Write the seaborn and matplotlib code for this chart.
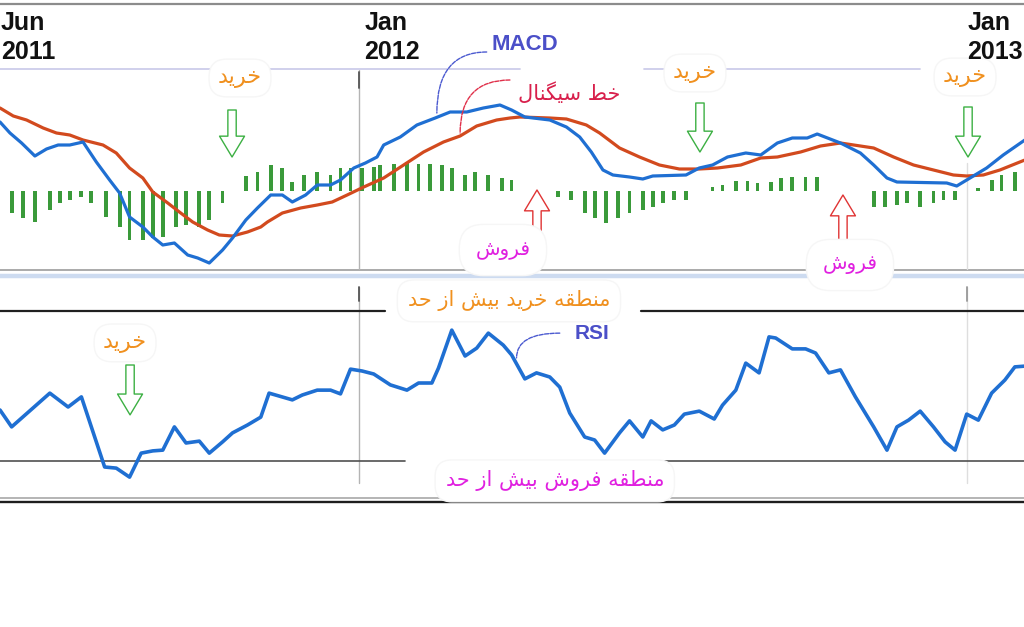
import matplotlib
matplotlib.use("Agg")
import matplotlib.pyplot as plt
from matplotlib.lines import Line2D
import seaborn as sns
import pandas as pd

# ---------------- data (x = days since 2011-05-30, weekly-ish) ----------------
macd_day = [0, 6, 13, 21, 28, 35, 42, 50, 58, 66, 72, 78, 86, 92, 98, 105, 113, 119, 126, 134,
            140, 148, 155, 163, 170, 176, 184, 191, 199, 205, 213, 220, 227, 231, 241, 251, 262,
            271, 281, 291, 301, 308, 316, 331, 341, 349, 356, 363, 369, 379, 387, 393, 413, 421,
            429, 438, 449, 458, 468, 477, 486, 492, 506, 518, 526, 534, 540, 570, 576, 582, 594,
            604, 617]
macd = [1.38, 1.16, 0.96, 0.70, 0.84, 0.92, 0.92, 0.98, 0.58, 0.22, -0.04, -0.52, -0.72, -0.92,
        -1.08, -1.04, -1.28, -1.34, -1.44, -1.18, -0.94, -0.58, -0.34, -0.08, -0.08, -0.22, -0.08,
        0.12, 0.12, 0.22, 0.46, 0.56, 0.68, 0.92, 1.08, 1.32, 1.46, 1.58, 1.58, 1.66, 1.72, 1.62,
        1.48, 1.42, 1.28, 1.08, 0.78, 0.42, 0.32, 0.28, 0.24, 0.30, 0.32, 0.46, 0.52, 0.68, 0.76,
        0.72, 0.96, 1.06, 1.06, 1.14, 0.96, 0.76, 0.52, 0.26, 0.18, 0.16, 0.10, 0.22, 0.46, 0.72,
        1.02]

signal_day = [0, 8, 16, 26, 34, 42, 50, 62, 70, 78, 86, 92, 101, 108, 116, 125, 132, 140, 149, 157,
              161, 170, 181, 191, 200, 209, 219, 231, 243, 255, 267, 277, 287, 299, 307, 313, 331,
              341, 353, 361, 373, 385, 397, 409, 421, 432, 446, 458, 468, 482, 494, 506, 518, 526,
              538, 550, 562, 574, 582, 592, 602, 617]
signal = [1.66, 1.50, 1.42, 1.26, 1.16, 1.12, 1.02, 0.92, 0.76, 0.46, 0.26, -0.02, -0.24, -0.42,
          -0.62, -0.78, -0.88, -0.90, -0.82, -0.72, -0.62, -0.44, -0.34, -0.28, -0.22, -0.08, 0.08,
          0.26, 0.52, 0.78, 0.98, 1.10, 1.30, 1.42, 1.46, 1.48, 1.46, 1.44, 1.32, 1.16, 0.86, 0.68,
          0.52, 0.44, 0.44, 0.46, 0.52, 0.66, 0.68, 0.78, 0.90, 0.96, 0.90, 0.86, 0.68, 0.52, 0.42,
          0.32, 0.30, 0.32, 0.42, 0.62]

hist_day = [7, 14, 21, 30, 36, 42, 49, 55, 64, 72, 78, 86, 92, 98, 106, 112, 120, 126, 134,
            148, 155, 163, 170, 176, 183, 191, 199, 205, 211, 218, 225, 229, 237, 245, 252, 259,
            266, 272, 280, 286, 294, 302, 308,
            336, 344, 352, 358, 365, 372, 379, 387, 393, 399, 406, 413,
            429, 435, 443, 450, 456, 464, 470, 477, 485, 492,
            526, 533, 540, 546, 554, 562, 568, 575,
            589, 597, 603, 611]
hist = [-0.44, -0.54, -0.62, -0.38, -0.24, -0.18, -0.12, -0.24, -0.52, -0.72, -0.98, -0.98, -0.94,
        -0.92, -0.72, -0.68, -0.72, -0.58, -0.24,
        0.30, 0.38, 0.52, 0.46, 0.18, 0.32, 0.38, 0.32, 0.46, 0.46, 0.46, 0.48, 0.52, 0.54, 0.58,
        0.54, 0.54, 0.52, 0.46, 0.32, 0.38, 0.32, 0.26, 0.22,
        -0.12, -0.18, -0.44, -0.54, -0.64, -0.54, -0.44, -0.38, -0.32, -0.24, -0.18, -0.18,
        0.08, 0.12, 0.20, 0.20, 0.16, 0.18, 0.26, 0.28, 0.28, 0.28,
        -0.32, -0.32, -0.28, -0.24, -0.32, -0.24, -0.18, -0.18,
        0.06, 0.22, 0.32, 0.38]

rsi_day = [0, 7, 30, 41, 49, 63, 70, 78, 85, 92, 98, 105, 112, 120, 126, 134, 140, 149, 157, 162,
           176, 182, 191, 199, 205, 211, 218, 225, 235, 245, 252, 260, 264, 272, 280, 287, 294,
           303, 308, 316, 323, 331, 337, 343, 352, 358, 364, 373, 379, 387, 392, 399, 406, 412,
           421, 430, 435, 443, 449, 457, 463, 467, 477, 485, 491, 499, 506, 515, 526, 534, 540,
           547, 554, 562, 569, 575, 582, 589, 597, 605, 611, 617]
rsi = [43.6, 39.1, 48.1, 44.4, 47.1, 28.4, 28.1, 25.7, 32.1, 32.7, 32.9, 39.1, 34.8, 35.3, 32.1,
       35.1, 37.5, 39.6, 41.7, 48.1, 46.3, 47.6, 48.9, 48.9, 47.9, 54.5, 54.0, 53.2, 50.3, 48.9,
       50.8, 50.8, 54.8, 64.9, 58.0, 60.1, 64.1, 60.9, 58.3, 51.9, 53.5, 52.4, 49.7, 42.8, 36.4,
       35.6, 32.1, 37.5, 40.7, 36.4, 40.7, 38.3, 39.6, 42.5, 43.3, 41.2, 44.9, 48.9, 56.1, 53.5,
       63.1, 62.8, 59.9, 59.9, 58.8, 53.5, 54.3, 47.1, 39.1, 32.9, 39.1, 40.9, 43.3, 39.1, 35.1,
       32.9, 42.5, 40.9, 48.1, 51.6, 55.1, 55.3]

start_date = pd.Timestamp("2011-05-30")
date_labels = ["Jun\n2011", "Jan\n2012", "Jan\n2013"]
label_dates = ["2011-06-01", "2012-01-01", "2013-01-01"]
rsi_levels = [70, 30]

# --------------- Persian shaping (logical text -> presentation forms, visual order) ---------------
FORMS = {
    'ا': ('\uFE8D', '\uFE8E', None, None),
    'ب': ('\uFE8F', '\uFE90', '\uFE91', '\uFE92'),
    'ح': ('\uFEA1', '\uFEA2', '\uFEA3', '\uFEA4'),
    'خ': ('\uFEA5', '\uFEA6', '\uFEA7', '\uFEA8'),
    'د': ('\uFEA9', '\uFEAA', None, None),
    'ر': ('\uFEAD', '\uFEAE', None, None),
    'ز': ('\uFEAF', '\uFEB0', None, None),
    'س': ('\uFEB1', '\uFEB2', '\uFEB3', '\uFEB4'),
    'ش': ('\uFEB5', '\uFEB6', '\uFEB7', '\uFEB8'),
    'ط': ('\uFEC1', '\uFEC2', '\uFEC3', '\uFEC4'),
    'ف': ('\uFED1', '\uFED2', '\uFED3', '\uFED4'),
    'ق': ('\uFED5', '\uFED6', '\uFED7', '\uFED8'),
    'ل': ('\uFEDD', '\uFEDE', '\uFEDF', '\uFEE0'),
    'م': ('\uFEE1', '\uFEE2', '\uFEE3', '\uFEE4'),
    'ن': ('\uFEE5', '\uFEE6', '\uFEE7', '\uFEE8'),
    'ه': ('\uFEE9', '\uFEEA', '\uFEEB', '\uFEEC'),
    'و': ('\uFEED', '\uFEEE', None, None),
    'ی': ('\uFBFC', '\uFBFD', '\uFBFE', '\uFBFF'),
    'گ': ('\uFB92', '\uFB93', '\uFB94', '\uFB95'),
}


def fa(s):
    out = []
    for i, ch in enumerate(s):
        if ch not in FORMS:
            out.append(ch)
            continue
        iso, fin, ini, med = FORMS[ch]
        prev = s[i - 1] if i > 0 else ''
        nxt = s[i + 1] if i + 1 < len(s) else ''
        jp = prev in FORMS and FORMS[prev][2] is not None
        jn = nxt in FORMS and ini is not None
        if jp and jn:
            out.append(med)
        elif jp:
            out.append(fin)
        elif jn:
            out.append(ini)
        else:
            out.append(iso)
    return ''.join(reversed(out))


TXT_BUY = "خرید"
TXT_SELL = "فروش"
TXT_SIGNAL = "خط سیگنال"
TXT_OB = "منطقه خرید بیش از حد"
TXT_OS = "منطقه فروش بیش از حد"

# ---------------- figure ----------------
sns.set_style("white")
plt.rcParams['font.family'] = ['DejaVu Sans']

W, H = 1024, 627
fig = plt.figure(figsize=(W / 100, H / 100), dpi=100)
fig.patch.set_facecolor("white")


def fy(py):
    return 1 - py / H


ax1 = fig.add_axes([0, fy(270), 1, (270 - 4) / H])
ax2 = fig.add_axes([0, fy(497), 1, (497 - 283) / H])
for ax in (ax1, ax2):
    ax.axis("off")
    ax.set_xlim(0, 616.5)
ax1.set_ylim(-1.58, 3.74)
ax2.set_ylim(20.4, 77.47)

# frame lines of the two panes
for py, col, lw in [(4, "#8c8c8c", 1.6), (270, "#a4a4a4", 1.3), (276, "#cddbf0", 3.2),
                    (497.5, "#a0a0a0", 1.1), (501.5, "#1e1e1e", 1.7)]:
    fig.add_artist(Line2D([0, 1], [fy(py), fy(py)], transform=fig.transFigure,
                          color=col, lw=lw, zorder=-5))

BLUE = "#1f6fd2"
ORANGE = "#d24a1e"
GREEN = "#3a9a3a"

# date separators
days = [(pd.Timestamp(d) - start_date).days for d in label_dates]
ax1.plot([days[1]] * 2, [2.42, -1.58], color="#b4b4b4", lw=1.0, zorder=1)
ax1.plot([days[1]] * 2, [2.38, 2.06], color="#555555", lw=1.3, zorder=1)
ax1.plot([days[2]] * 2, [0.56, -1.58], color="#dedede", lw=1.0, zorder=1)
for d, c_light, c_dark in [(days[1], "#b4b4b4", "#555555"), (days[2], "#dedede", "#999999")]:
    ax2.plot([d, d], [76.4, 24.1], color=c_light, lw=1.0, zorder=1)
    ax2.plot([d, d], [76.4, 72.6], color=c_dark, lw=1.3, zorder=1)

# lavender guide line under the date labels
ax1.plot([0, 313], [2.44, 2.44], color="#cdcdea", lw=1.3, zorder=1)
ax1.plot([388, 554], [2.44, 2.44], color="#cdcdea", lw=1.3, zorder=1)

# histogram + MACD + signal
ax1.bar(hist_day, hist, width=2.3, color=GREEN, lw=0, zorder=2)
sns.lineplot(x=signal_day, y=signal, ax=ax1, color=ORANGE, lw=2.3, estimator=None, zorder=3)
sns.lineplot(x=macd_day, y=macd, ax=ax1, color=BLUE, lw=2.3, estimator=None, zorder=4)

# RSI
ax2.plot([0, 232], [rsi_levels[0]] * 2, color="#202020", lw=1.6, zorder=1)
ax2.plot([386, 616.5], [rsi_levels[0]] * 2, color="#202020", lw=1.6, zorder=1)
ax2.plot([0, 244], [rsi_levels[1]] * 2, color="#505050", lw=1.2, zorder=1)
ax2.plot([282, 616.5], [rsi_levels[1]] * 2, color="#505050", lw=1.2, zorder=1)
sns.lineplot(x=rsi_day, y=rsi, ax=ax2, color=BLUE, lw=2.6, estimator=None, zorder=4)

# date labels (drawn above the label boxes)
for lab, d, off in zip(date_labels, days, [-1.5, 3.5, 0.5]):
    ax1.text(d + off, 3.61, lab, ha="left", va="top", fontsize=18, fontweight="bold",
             family=["Liberation Sans", "DejaVu Sans"], color="#111111", linespacing=1.28,
             clip_on=False, zorder=12)

GLOW = "#f6f6f6"
BOX = dict(boxstyle="round,pad=0.4,rounding_size=0.8", fc="white", ec=GLOW, lw=1.0)

# MACD / signal labels with leaders
ax1.text(316, 2.92, "MACD", ha="center", va="center", fontsize=16, fontweight="bold",
         family=["Liberation Sans"], color="#4b4fc8", zorder=10)
ax1.annotate("", xy=(263, 1.56), xytext=(293, 2.78),
             arrowprops=dict(arrowstyle="-", color="#4b5ad0", lw=1.0, ls=(0, (3, 1)),
                             connectionstyle="angle3,angleA=0,angleB=90", shrinkA=0, shrinkB=0),
             zorder=6)
ax1.text(342.6, 1.96, fa(TXT_SIGNAL), ha="center", va="center", fontsize=15,
         color="#d8204c", zorder=10)
ax1.annotate("", xy=(277, 1.16), xytext=(307, 2.22),
             arrowprops=dict(arrowstyle="-", color="#e0304a", lw=1.0, ls=(0, (3, 1)),
                             connectionstyle="angle3,angleA=0,angleB=90", shrinkA=0, shrinkB=0),
             zorder=6)

BUY_C = "#f0901e"
SELL_C = "#e020e0"


def arrow(ax, x, y0, y1, col):
    ax.annotate("", xy=(x, y1), xytext=(x, y0),
                arrowprops=dict(arrowstyle="simple,head_width=1.8,head_length=1.5,tail_width=0.6",
                                fc="white", ec=col, lw=1.0, mutation_scale=10,
                                shrinkA=0, shrinkB=0), zorder=9)


# buy labels + green arrows (MACD pane)
for x, ylab in [(144.5, 2.26), (418.4, 2.36), (581, 2.28)]:
    ax1.text(x, ylab, fa(TXT_BUY), ha="center", va="center", fontsize=16, color=BUY_C,
             bbox=BOX, zorder=10)
for x, ya, yb in [(139.7, 1.62, 0.68), (421.4, 1.76, 0.78), (582.8, 1.68, 0.68)]:
    arrow(ax1, x, ya, yb, "#3cb043")

# sell labels + red arrows
for x, ylab in [(302.8, -1.18), (511.7, -1.48)]:
    ax1.text(x, ylab, fa(TXT_SELL), ha="center", va="center", fontsize=14.5, color=SELL_C,
             bbox=dict(boxstyle="round,pad=0.8,rounding_size=1.2", fc="white", ec=GLOW, lw=1.0),
             clip_on=False, zorder=10)
for x, ya, yb in [(323.3, -0.94, 0.02), (507.5, -0.98, -0.08)]:
    arrow(ax1, x, ya, yb, "#e03434")

# RSI pane annotations
ax2.text(75.3, 61.5, fa(TXT_BUY), ha="center", va="center", fontsize=16, color=BUY_C,
         bbox=BOX, zorder=10)
arrow(ax2, 78.3, 55.6, 42.3, "#3cb043")
ax2.text(306.4, 72.7, fa(TXT_OB), ha="center", va="center", fontsize=15, color=BUY_C,
         bbox=dict(boxstyle="round,pad=0.5,rounding_size=0.8", fc="white", ec=GLOW, lw=1.0),
         clip_on=False, zorder=10)
ax2.text(334, 24.7, fa(TXT_OS), ha="center", va="center", fontsize=15, color=SELL_C,
         bbox=dict(boxstyle="round,pad=0.5,rounding_size=0.8", fc="white", ec=GLOW, lw=1.0),
         clip_on=False, zorder=10)
ax2.text(356.4, 63.9, "RSI", ha="center", va="center", fontsize=15, fontweight="bold",
         family=["Liberation Sans"], color="#4b4fc8", zorder=10)
ax2.annotate("", xy=(311, 57.5), xytext=(337, 64.1),
             arrowprops=dict(arrowstyle="-", color="#4b5ad0", lw=1.0, ls=(0, (3, 1)),
                             connectionstyle="angle3,angleA=0,angleB=90", shrinkA=0, shrinkB=0),
             zorder=6)

fig.savefig("out.png", dpi=100, facecolor="white")
